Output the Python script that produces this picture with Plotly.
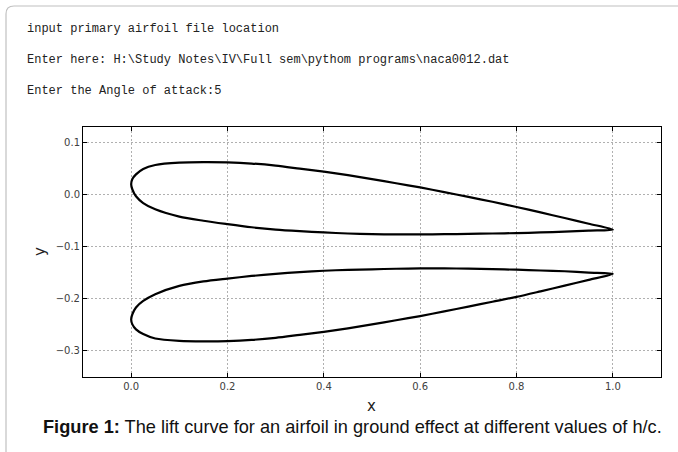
import plotly.graph_objects as go

# ---- data ----
# main airfoil (upper one), upper surface: trailing edge -> leading edge
wing_upper_x = [1.0, 0.95, 0.9, 0.85, 0.8, 0.75, 0.7, 0.65, 0.6, 0.55, 0.5, 0.45, 0.4, 0.35,
                0.3, 0.25, 0.2, 0.15, 0.1, 0.05, 0.025, 0.01, 0.0025, 0.0]
wing_upper_y = [-0.067, -0.0558, -0.0448, -0.034, -0.0235, -0.0135, -0.0042, 0.005, 0.014, 0.022,
                0.030, 0.0375, 0.0442, 0.050, 0.0558, 0.0598, 0.062, 0.0625, 0.0615, 0.057,
                0.0495, 0.039, 0.030, 0.020]
# main airfoil, lower surface: leading edge -> trailing edge
wing_lower_x = [0.0025, 0.01, 0.025, 0.05, 0.1, 0.15, 0.2, 0.25, 0.3, 0.35, 0.4, 0.45, 0.5,
                0.55, 0.6, 0.65, 0.7, 0.75, 0.8, 0.85, 0.9, 0.95, 1.0]
wing_lower_y = [0.010, -0.003, -0.016, -0.028, -0.042, -0.050, -0.0565, -0.0625, -0.067, -0.070,
                -0.0725, -0.0745, -0.0758, -0.0763, -0.0762, -0.0758, -0.0752, -0.0745, -0.0737,
                -0.0725, -0.071, -0.069, -0.067]

# image airfoil (lower one), top surface: trailing edge -> leading edge
image_upper_x = [1.0, 0.95, 0.9, 0.85, 0.8, 0.75, 0.7, 0.65, 0.6, 0.55, 0.5, 0.45, 0.4, 0.35,
                 0.3, 0.25, 0.2, 0.15, 0.1, 0.05, 0.025, 0.01, 0.0025, 0.0]
image_upper_y = [-0.152, -0.1495, -0.147, -0.1455, -0.144, -0.143, -0.142, -0.1415, -0.1415,
                 -0.1422, -0.1432, -0.1443, -0.146, -0.1485, -0.152, -0.156, -0.161, -0.1665,
                 -0.175, -0.191, -0.204, -0.2165, -0.2295, -0.2395]
# image airfoil, bottom surface: leading edge -> trailing edge
image_lower_x = [0.0025, 0.01, 0.025, 0.05, 0.1, 0.15, 0.2, 0.25, 0.3, 0.35, 0.4, 0.45, 0.5,
                 0.55, 0.6, 0.65, 0.7, 0.75, 0.8, 0.85, 0.9, 0.95, 1.0]
image_lower_y = [-0.249, -0.2585, -0.2675, -0.276, -0.2805, -0.2815, -0.281, -0.2788, -0.2748,
                 -0.269, -0.2632, -0.2565, -0.249, -0.241, -0.233, -0.224, -0.2148, -0.2055,
                 -0.1962, -0.1855, -0.1745, -0.1635, -0.152]

x_ticks = [0.0, 0.2, 0.4, 0.6, 0.8, 1.0]
y_ticks = [0.1, 0.0, -0.1, -0.2, -0.3]
x_range = [-0.1, 1.1]
y_range = [-0.35, 0.13]

console_lines = [
    "input primary airfoil file location",
    "Enter here: H:\\Study Notes\\IV\\Full sem\\pythom programs\\naca0012.dat",
    "Enter the Angle of attack:5",
]
caption_bold = "Figure 1:"
caption_rest = " The lift curve for an airfoil in ground effect at different values of h/c."

# ---- layout geometry (pixels) ----
W, H = 678, 452
L, R, T, B = 83, 661, 127, 377


def px(x):
    return (x - L) / (R - L)


def py(y):
    return (B - y) / (B - T)


line_style = dict(color="black", width=2.2, shape="spline", smoothing=0.8)
fig = go.Figure()
fig.add_trace(go.Scatter(
    x=wing_upper_x + wing_lower_x, y=wing_upper_y + wing_lower_y,
    mode="lines", line=line_style, hoverinfo="skip", showlegend=False))
fig.add_trace(go.Scatter(
    x=image_upper_x + image_lower_x, y=image_upper_y + image_lower_y,
    mode="lines", line=line_style, hoverinfo="skip", showlegend=False))

axis_common = dict(
    showgrid=True, gridcolor="#b0b0b0", griddash="2px,2px", gridwidth=1,
    showline=True, linecolor="black", linewidth=1, mirror="ticks",
    ticks="inside", ticklen=4, tickcolor="black",
    tickfont=dict(family="DejaVu Sans", size=10, color="#404040"),
    zeroline=False, tickformat=".1f",
)
fig.update_xaxes(range=x_range, tickvals=x_ticks, **axis_common)
fig.update_yaxes(range=y_range, tickvals=y_ticks, **axis_common)

annotations = []
line_y = [29, 60, 91]
for text, yy in zip(console_lines, line_y):
    annotations.append(dict(
        x=px(25), y=py(yy), xref="paper", yref="paper", xanchor="left", yanchor="middle",
        text=text, showarrow=False,
        font=dict(family="Liberation Mono", size=12, color="#222222")))
annotations.append(dict(
    x=px(371), y=py(406), xref="paper", yref="paper", xanchor="center", yanchor="middle",
    text="x", showarrow=False, font=dict(family="DejaVu Sans", size=15, color="#222222")))
annotations.append(dict(
    x=px(40), y=py(252), xref="paper", yref="paper", xanchor="center", yanchor="middle",
    text="y", textangle=-90, showarrow=False,
    font=dict(family="DejaVu Sans", size=15, color="#222222")))
annotations.append(dict(
    x=px(41), y=py(427), xref="paper", yref="paper", xanchor="left", yanchor="middle",
    text="<b>" + caption_bold + "</b>" + caption_rest, showarrow=False,
    font=dict(family="Liberation Sans", size=18.2, color="#111111")))

# rounded frame around the whole figure panel
bx0, by0, rad = 6, 6, 8
bx1, by1 = W + 20, H + 20
shapes = [
    dict(type="line", xref="paper", yref="paper", x0=px(bx0), x1=px(bx0),
         y0=py(by0 + rad), y1=py(by1), line=dict(color="#c0c0c0", width=1.2), layer="above"),
    dict(type="line", xref="paper", yref="paper", x0=px(bx0 + rad), x1=px(bx1),
         y0=py(by0), y1=py(by0), line=dict(color="#c0c0c0", width=1.2), layer="above"),
    dict(type="path", xref="paper", yref="paper",
         path=(f"M {px(bx0)},{py(by0 + rad)} Q {px(bx0)},{py(by0)} "
               f"{px(bx0 + rad)},{py(by0)}"),
         line=dict(color="#c0c0c0", width=1.2), layer="above"),
]

fig.update_layout(
    width=W, height=H,
    margin=dict(l=L, r=W - R, t=T, b=H - B),
    paper_bgcolor="white", plot_bgcolor="white",
    annotations=annotations, shapes=shapes,
)

fig.write_html("out.html", config={"displayModeBar": False},
               post_script="document.body.style.margin='0';")
